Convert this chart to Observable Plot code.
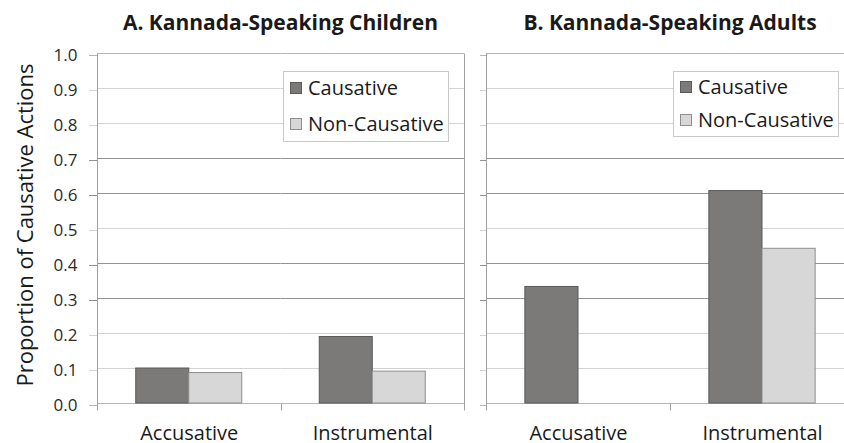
<!DOCTYPE html>
<html><head><meta charset="utf-8">
<script src="https://cdn.jsdelivr.net/npm/d3@7"></script>
<script src="https://cdn.jsdelivr.net/npm/@observablehq/plot@0.6"></script>
<style>
html,body{margin:0;padding:0;background:#fff;overflow:hidden}
#root{position:relative;width:844px;height:443px;overflow:hidden;font-family:"Open Sans",sans-serif;color:#222;background:#fff}
.title{position:absolute;top:12px;font-weight:bold;font-size:21px;line-height:1;white-space:nowrap;transform:translateX(-50%);color:#1a1a1a}
.ylabel{position:absolute;font-size:22px;line-height:1;white-space:nowrap;transform:translate(-50%,-50%) rotate(-90deg);color:#1a1a1a}
.panel{position:absolute;top:0}
.panel svg{max-width:none !important;display:block}
.legend{position:absolute;border:1px solid #c9c9c9;background:#fff;box-sizing:border-box}
.legend .row{position:absolute;left:6px;display:flex;align-items:center;font-size:20px;line-height:1;white-space:nowrap;color:#1a1a1a}
.legend .sw{width:12px;height:12px;box-sizing:border-box;margin-right:6px;border:1px solid}
</style></head>
<body><div id="root"></div>
<script>
// ---- data ----
const categories = ["Accusative", "Instrumental"];
const series = ["Causative", "Non-Causative"];
const childrenCausative = [0.100, 0.190];
const childrenNonCausative = [0.087, 0.091];
const adultsCausative = [0.333, 0.607];
const adultsNonCausative = [0.000, 0.442];
const yTicks = [0.0, 0.1, 0.2, 0.3, 0.4, 0.5, 0.6, 0.7, 0.8, 0.9, 1.0];
const panelTitles = ["A. Kannada-Speaking Children", "B. Kannada-Speaking Adults"];
const yLabel = "Proportion of Causative Actions";

// ---- styles ----
const seriesFill = {"Causative": "#7b7a78", "Non-Causative": "#d7d7d7"};
const seriesStroke = {"Causative": "#5a5a5a", "Non-Causative": "#8e8e8e"};
const darkGrid = [0.3, 0.4, 0.6, 0.7];
const edgeGrid = [0.0, 1.0];
const gridStroke = v => darkGrid.includes(v) ? "#939393" : edgeGrid.includes(v) ? "#b5b5b5" : "#d3d3d3";

function rows(causative, nonCausative) {
  const out = [];
  categories.forEach((c, i) => {
    out.push({category: c, series: series[0], value: causative[i]});
    out.push({category: c, series: series[1], value: nonCausative[i]});
  });
  return out;
}

function panel({data, width, marginLeft, marginRight, tickSize, tickLabels}) {
  const svg = Plot.plot({
    width, height: 443, marginTop: 53, marginBottom: 40, marginLeft, marginRight,
    style: {fontFamily: '"Open Sans", sans-serif', background: "transparent", overflow: "visible", maxWidth: "none"},
    fx: {domain: categories, padding: 0, round: false},
    x: {domain: series, paddingInner: 0, paddingOuter: 0.731, round: false, axis: null},
    y: {domain: [0, 1]},
    color: {type: "identity"},
    marks: [
      Plot.ruleY(yTicks, {stroke: gridStroke}),
      Plot.barY(data.filter(d => d.value > 0), {
        fx: "category", x: "series", y: "value",
        fill: d => seriesFill[d.series], stroke: d => seriesStroke[d.series]
      }),
      Plot.axisY({ticks: yTicks, tickSize, tickPadding: 12, label: null,
        tickFormat: tickLabels ? (d => d.toFixed(1)) : (() => ""),
        stroke: gridStroke, fill: "#2a2a2a", fontSize: 17, dy: 2}),
      Plot.axisFx({anchor: "bottom", tickSize: 0, tickPadding: 22, fontSize: 20, fill: "#1a1a1a", label: null})
    ]
  });
  svg.style.maxWidth = "none";
  return svg;
}

function addEdges(svg, drawRight) {
  const fx = svg.scale("fx"), y = svg.scale("y");
  const xs = fx.domain.map(d => fx.apply(d));
  xs.push(xs[xs.length - 1] + fx.bandwidth);
  const yTop = y.apply(1), yBot = y.apply(0), ext = 7;
  const g = d3.select(svg).append("g").attr("stroke", "#a0a0a0").attr("transform", "translate(0.5,0.5)");
  xs.forEach((x, i) => {
    const full = i === 0 || (i === xs.length - 1 && drawRight);
    g.append("line").attr("x1", Math.round(x)).attr("x2", Math.round(x))
      .attr("y1", full ? yTop : yBot).attr("y2", yBot + ext);
  });
}

const root = document.getElementById("root");

const pA = document.createElement("div"); pA.className = "panel"; pA.style.left = "0px"; pA.style.width = "470px";
const svgA = panel({data: rows(childrenCausative, childrenNonCausative), width: 470, marginLeft: 97, marginRight: 6, tickSize: 8, tickLabels: true});
addEdges(svgA, true);
pA.appendChild(svgA); root.appendChild(pA);

const pB = document.createElement("div"); pB.className = "panel"; pB.style.left = "470px"; pB.style.width = "390px";
const svgB = panel({data: rows(adultsCausative, adultsNonCausative), width: 390, marginLeft: 16, marginRight: 6, tickSize: 6, tickLabels: false});
addEdges(svgB, false);
pB.appendChild(svgB); root.appendChild(pB);

// titles
[[panelTitles[0], 280.5], [panelTitles[1], 670]].forEach(([t, cx]) => {
  const d = document.createElement("div"); d.className = "title"; d.textContent = t;
  d.style.left = cx + "px"; root.appendChild(d);
});

// y label
const yl = document.createElement("div"); yl.className = "ylabel"; yl.textContent = yLabel;
yl.style.left = "24px"; yl.style.top = "225px"; root.appendChild(yl);

// legends
function legend(left, top, w, h, rowTops) {
  const box = document.createElement("div"); box.className = "legend";
  Object.assign(box.style, {left: left + "px", top: top + "px", width: w + "px", height: h + "px"});
  series.forEach((s, i) => {
    const r = document.createElement("div"); r.className = "row"; r.style.top = rowTops[i] + "px";
    const sw = document.createElement("span"); sw.className = "sw";
    sw.style.background = seriesFill[s]; sw.style.borderColor = seriesStroke[s];
    const tx = document.createElement("span"); tx.textContent = s;
    r.appendChild(sw); r.appendChild(tx); box.appendChild(r);
  });
  root.appendChild(box);
}
legend(283, 71, 166, 71, [6, 42]);
legend(673, 71, 166, 66, [4.5, 38]);
</script>
</body></html>
